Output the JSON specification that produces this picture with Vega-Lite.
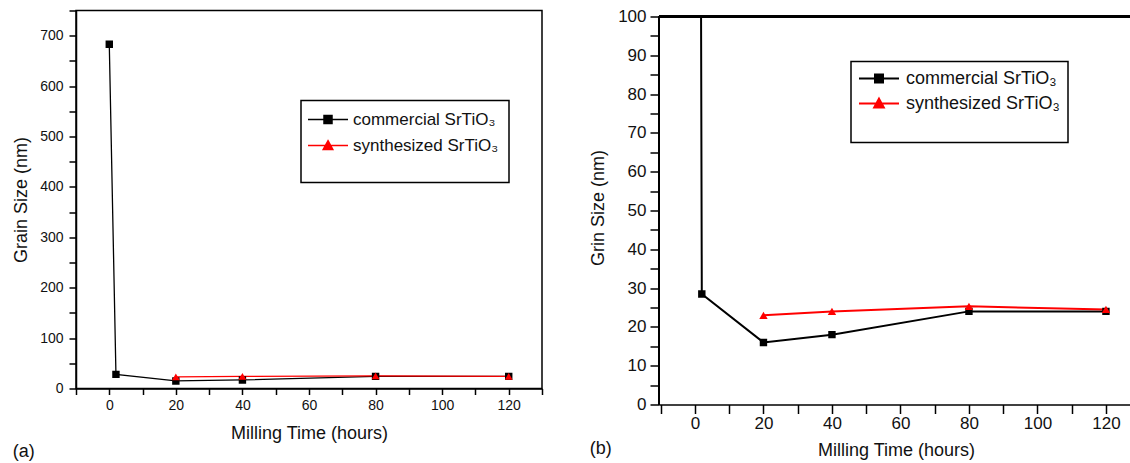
{
  "$schema": "https://vega.github.io/schema/vega-lite/v6.json",
  "padding": {"left": 11, "top": 6.5, "right": 0, "bottom": 0},
  "background": "white",
  "spacing": 34,
  "resolve": {"scale": {"color": "independent"}, "legend": {"color": "independent"}},
  "config": {
    "font": "Liberation Sans",
    "axis": {"grid": false, "domainColor": "#000", "domainWidth": 1.5, "tickColor": "#000", "tickWidth": 1.5, "labelFont": "Liberation Sans", "labelColor": "#111", "titleFont": "Liberation Sans", "titleFontWeight": "normal", "titleFontSize": 18, "titleColor": "#111", "labelOverlap": false, "labelFlush": false, "tickCount": 200, "format": "d"},
    "legend": {"labelFont": "Liberation Sans", "labelColor": "#111"},
    "title": {"font": "Liberation Sans", "fontWeight": "normal", "fontSize": 18, "color": "#111"}
  },
  "datasets": {
    "a": [
      {"series": "commercial SrTiO₃", "time": 0, "size": 683},
      {"series": "commercial SrTiO₃", "time": 2, "size": 28},
      {"series": "commercial SrTiO₃", "time": 20, "size": 15},
      {"series": "commercial SrTiO₃", "time": 40, "size": 17},
      {"series": "commercial SrTiO₃", "time": 80, "size": 24},
      {"series": "commercial SrTiO₃", "time": 120, "size": 24},
      {"series": "synthesized SrTiO₃", "time": 20, "size": 23},
      {"series": "synthesized SrTiO₃", "time": 40, "size": 24},
      {"series": "synthesized SrTiO₃", "time": 80, "size": 25},
      {"series": "synthesized SrTiO₃", "time": 120, "size": 24}
    ],
    "b": [
      {"series": "commercial SrTiO₃", "time": 0, "size": 683},
      {"series": "commercial SrTiO₃", "time": 2, "size": 28.5},
      {"series": "commercial SrTiO₃", "time": 20, "size": 16},
      {"series": "commercial SrTiO₃", "time": 40, "size": 18},
      {"series": "commercial SrTiO₃", "time": 80, "size": 24},
      {"series": "commercial SrTiO₃", "time": 120, "size": 24},
      {"series": "synthesized SrTiO₃", "time": 20, "size": 23},
      {"series": "synthesized SrTiO₃", "time": 40, "size": 24},
      {"series": "synthesized SrTiO₃", "time": 80, "size": 25.3},
      {"series": "synthesized SrTiO₃", "time": 120, "size": 24.5}
    ]
  },
  "hconcat": [
    {
      "width": 466,
      "height": 378,
      "view": {"stroke": "#000", "strokeWidth": 1.5},
      "title": {"text": "(a)", "orient": "bottom", "anchor": "start", "frame": "bounds", "offset": 0},
      "data": {"name": "a"},
      "layer": [
        {
          "mark": {"type": "line", "strokeWidth": 1.3, "clip": true},
          "encoding": {
            "x": {"field": "time", "type": "quantitative", "scale": {"domain": [-10, 130], "nice": false, "zero": false},
              "axis": {"title": "Milling Time (hours)", "values": [-10, 0, 10, 20, 30, 40, 50, 60, 70, 80, 90, 100, 110, 120, 130],
                "tickCount": 200, "labelOverlap": false, "format": "d",
                "labelOpacity": {"condition": {"test": "datum.value % 20 === 0 && datum.value >= 0 && datum.value <= 120", "value": 1}, "value": 0},
                "tickSize": 6,
                "encode": {"ticks": {"update": {"y2": {"signal": "datum.value % 20 === 0 ? 6 : 4"}}}},
                "labelFontSize": 14, "labelPadding": 4, "titlePadding": 12}},
            "y": {"field": "size", "type": "quantitative", "scale": {"domain": [0, 750], "nice": false},
              "axis": {"title": "Grain Size (nm)", "values": [0, 50, 100, 150, 200, 250, 300, 350, 400, 450, 500, 550, 600, 650, 700, 750],
                "tickCount": 200, "labelOverlap": false, "format": "d",
                "labelOpacity": {"condition": {"test": "datum.value % 100 === 0 && datum.value <= 700", "value": 1}, "value": 0},
                "labelFontSize": {"condition": {"test": "datum.value === 750", "value": 5}, "value": 14},
                "tickSize": 7,
                "encode": {"ticks": {"update": {"x2": {"signal": "datum.value % 100 === 0 ? -7 : -4"}}}},
                "labelPadding": 6, "titlePadding": 9}},
            "color": {"field": "series", "type": "nominal",
              "scale": {"domain": ["commercial SrTiO₃", "synthesized SrTiO₃"], "range": ["#000000", "#ff0000"]},
              "legend": {"orient": "none", "legendX": 225, "legendY": 90, "title": " ", "titleOrient": "bottom", "titleFontSize": 10, "titlePadding": 9,
                "strokeColor": "#000", "fillColor": "#fff", "padding": 10, "labelFontSize": 17, "rowPadding": 9,
                "symbolSize": 256, "symbolStrokeWidth": 1.5, "labelOffset": 16, "symbolOffset": 8,
                "labelExpr": "datum.label + '\u2003\u2002\u2009'",
                "encode": {
                  "legend": {"update": {"strokeWidth": {"value": 1.5}}},
                  "symbols": {"update": {"shape": {"signal": "datum.value === 'commercial SrTiO₃' ? 'M-2.5,0H2.5M-0.5,-0.5H0.5V0.5H-0.5Z' : 'M-2.5,0H2.5M0,-0.6L0.6,0.5H-0.6Z'"}, "fill": {"signal": "datum.value === 'commercial SrTiO₃' ? '#000' : '#f00'"}, "stroke": {"signal": "datum.value === 'commercial SrTiO₃' ? '#000' : '#f00'"}}}}}}
          }
        },
        {
          "transform": [{"filter": "datum.series === 'commercial SrTiO₃'"}],
          "mark": {"type": "point", "shape": "square", "filled": true, "size": 55, "color": "#000", "opacity": 1, "clip": true},
          "encoding": {"x": {"field": "time", "type": "quantitative"}, "y": {"field": "size", "type": "quantitative"}}
        },
        {
          "transform": [{"filter": "datum.series === 'synthesized SrTiO₃'"}],
          "mark": {"type": "point", "shape": "triangle-up", "filled": true, "size": 60, "color": "#ff0000", "opacity": 1, "clip": true},
          "encoding": {"x": {"field": "time", "type": "quantitative"}, "y": {"field": "size", "type": "quantitative"}}
        }
      ]
    },
    {
      "width": 474,
      "height": 394,
      "view": {"stroke": null},
      "title": {"text": "(b)", "orient": "bottom", "anchor": "start", "frame": "bounds", "offset": -20},
      "data": {"name": "b"},
      "layer": [
        {
          "mark": {"type": "line", "strokeWidth": 2, "clip": true},
          "encoding": {
            "x": {"field": "time", "type": "quantitative", "scale": {"domain": [-10.5, 127.9], "nice": false, "zero": false},
              "axis": {"title": "Milling Time (hours)", "values": [-10, 0, 10, 20, 30, 40, 50, 60, 70, 80, 90, 100, 110, 120],
                "tickCount": 200, "labelOverlap": false, "format": "d",
                "labelOpacity": {"condition": {"test": "datum.value % 20 === 0 && datum.value >= 0", "value": 1}, "value": 0},
                "tickSize": 9,
                "encode": {"ticks": {"update": {"y2": {"signal": "datum.value % 20 === 0 ? 9 : 5"}}}},
                "labelFontSize": 17, "labelPadding": 2, "titlePadding": 10}},
            "y": {"field": "size", "type": "quantitative", "scale": {"domain": [0, 101.546], "nice": false},
              "axis": {"title": "Grin Size (nm)", "values": [0, 5, 10, 15, 20, 25, 30, 35, 40, 45, 50, 55, 60, 65, 70, 75, 80, 85, 90, 95, 100],
                "tickCount": 200, "labelOverlap": false, "format": "d", "domain": false,
                "labelOpacity": {"condition": {"test": "datum.value % 10 === 0", "value": 1}, "value": 0},
                "tickSize": 9,
                "encode": {"ticks": {"update": {"x2": {"signal": "datum.value % 10 === 0 ? -9 : -5"}}}},
                "labelFontSize": 17, "labelPadding": 4, "titlePadding": 10}},
            "color": {"field": "series", "type": "nominal",
              "scale": {"domain": ["commercial SrTiO₃", "synthesized SrTiO₃"], "range": ["#000000", "#ff0000"]},
              "legend": {"orient": "none", "legendX": 192, "legendY": 51, "title": " ", "titleOrient": "bottom", "titleFontSize": 10, "titlePadding": 12,
                "strokeColor": "#000", "fillColor": "#fff", "padding": 8, "labelFontSize": 18, "rowPadding": 7,
                "symbolSize": 256, "symbolStrokeWidth": 2, "labelOffset": 18, "symbolOffset": 11,
                "labelExpr": "datum.label + '\u2003\u2003\u2009'",
                "encode": {
                  "legend": {"update": {"strokeWidth": {"value": 1.5}}},
                  "symbols": {"update": {"shape": {"signal": "datum.value === 'commercial SrTiO₃' ? 'M-2.5,0H2.5M-0.5,-0.5H0.5V0.5H-0.5Z' : 'M-2.5,0H2.5M0,-0.6L0.6,0.5H-0.6Z'"}, "fill": {"signal": "datum.value === 'commercial SrTiO₃' ? '#000' : '#f00'"}, "stroke": {"signal": "datum.value === 'commercial SrTiO₃' ? '#000' : '#f00'"}}}}}}
          }
        },
        {
          "transform": [{"filter": "datum.series === 'commercial SrTiO₃'"}],
          "mark": {"type": "point", "shape": "square", "filled": true, "size": 55, "color": "#000", "opacity": 1, "clip": true},
          "encoding": {"x": {"field": "time", "type": "quantitative"}, "y": {"field": "size", "type": "quantitative"}}
        },
        {
          "transform": [{"filter": "datum.series === 'synthesized SrTiO₃'"}],
          "mark": {"type": "point", "shape": "triangle-up", "filled": true, "size": 70, "color": "#ff0000", "opacity": 1, "clip": true},
          "encoding": {"x": {"field": "time", "type": "quantitative"}, "y": {"field": "size", "type": "quantitative"}}
        },
        {
          "mark": {"type": "rect", "color": "#ffffff", "opacity": 1},
          "encoding": {"y": {"datum": 100, "type": "quantitative"}, "y2": {"datum": 101.546}}
        },
        {
          "mark": {"type": "rule", "color": "#000", "strokeWidth": 2},
          "encoding": {"y": {"datum": 100, "type": "quantitative"}}
        },
        {
          "mark": {"type": "rule", "color": "#000", "strokeWidth": 1.5},
          "encoding": {"x": {"datum": -10.5, "type": "quantitative"}, "y": {"datum": 0, "type": "quantitative"}, "y2": {"datum": 100}}
        }
      ]
    }
  ]
}
